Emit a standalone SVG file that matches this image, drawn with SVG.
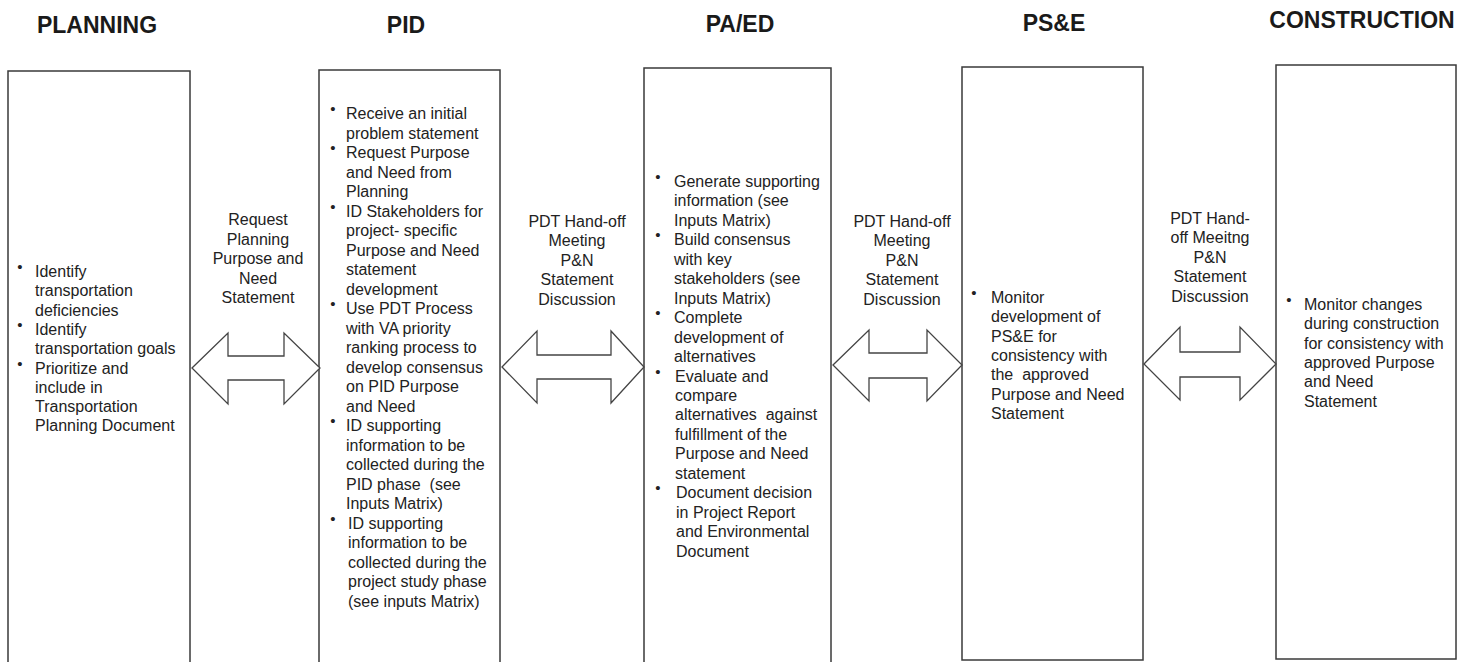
<svg xmlns="http://www.w3.org/2000/svg" width="1464" height="662" viewBox="0 0 1464 662">
<style>
.box{fill:#fff;stroke:#3a3a3a;stroke-width:1.5}
.hd{font-family:"Liberation Sans",Arial,sans-serif;font-weight:bold;font-size:23px;fill:#1a1a1a;text-anchor:middle}
.t{font-family:"Liberation Sans",Arial,sans-serif;font-size:16px;fill:#222}
.b{font-family:"Liberation Sans",Arial,sans-serif;font-size:15px;fill:#222;text-anchor:middle}
.lbl{font-family:"Liberation Sans",Arial,sans-serif;font-size:16px;fill:#222;text-anchor:middle}
.arr{fill:#fff;stroke:#444;stroke-width:1.3;stroke-linejoin:miter}
</style>
<rect width="1464" height="662" fill="#fff"/>

<g id="planning">
<text class="hd" x="97" y="33">PLANNING</text>
<rect class="box" x="8" y="71" width="182" height="595"/>
<text class="b" x="20" y="272">•</text>
<text class="b" x="20" y="330">•</text>
<text class="b" x="20" y="369">•</text>
<text class="t" x="35" y="277">Identify</text>
<text class="t" x="35" y="296.3">transportation</text>
<text class="t" x="35" y="315.6">deficiencies</text>
<text class="t" x="35" y="334.9">Identify</text>
<text class="t" x="35" y="354.2">transportation goals</text>
<text class="t" x="35" y="373.5">Prioritize and</text>
<text class="t" x="35" y="392.8">include in</text>
<text class="t" x="35" y="412.1">Transportation</text>
<text class="t" x="35" y="431.4">Planning Document</text>
</g>

<g id="pid">
<text class="hd" x="406" y="33">PID</text>
<rect class="box" x="319" y="70" width="181" height="596"/>
<text class="b" x="333" y="114">•</text>
<text class="b" x="333" y="153">•</text>
<text class="b" x="333" y="211.5">•</text>
<text class="b" x="333" y="309">•</text>
<text class="b" x="333" y="426">•</text>
<text class="b" x="333" y="523.5">•</text>
<text class="t" x="346" y="119">Receive an initial</text>
<text class="t" x="346" y="138.5">problem statement</text>
<text class="t" x="346" y="158">Request Purpose</text>
<text class="t" x="346" y="177.5">and Need from</text>
<text class="t" x="346" y="197">Planning</text>
<text class="t" x="346" y="216.5">ID Stakeholders for</text>
<text class="t" x="346" y="236">project- specific</text>
<text class="t" x="346" y="255.5">Purpose and Need</text>
<text class="t" x="346" y="275">statement</text>
<text class="t" x="346" y="294.5">development</text>
<text class="t" x="346" y="314">Use PDT Process</text>
<text class="t" x="346" y="333.5">with VA priority</text>
<text class="t" x="346" y="353">ranking process to</text>
<text class="t" x="346" y="372.5">develop consensus</text>
<text class="t" x="346" y="392">on PID Purpose</text>
<text class="t" x="346" y="411.5">and Need</text>
<text class="t" x="346" y="431">ID supporting</text>
<text class="t" x="346" y="450.5">information to be</text>
<text class="t" x="346" y="470">collected during the</text>
<text class="t" x="346" y="489.5" xml:space="preserve">PID phase  (see</text>
<text class="t" x="346" y="509">Inputs Matrix)</text>
<text class="t" x="348" y="528.5">ID supporting</text>
<text class="t" x="348" y="548">information to be</text>
<text class="t" x="348" y="567.5">collected during the</text>
<text class="t" x="348" y="587">project study phase</text>
<text class="t" x="348" y="606.5">(see inputs Matrix)</text>
</g>

<g id="paed">
<text class="hd" x="740" y="32">PA/ED</text>
<rect class="box" x="644" y="68" width="187" height="598"/>
<text class="b" x="658" y="182">•</text>
<text class="b" x="658" y="240.4">•</text>
<text class="b" x="658" y="318.2">•</text>
<text class="b" x="658" y="376.5">•</text>
<text class="b" x="658" y="493.2">•</text>
<text class="t" x="674" y="187">Generate supporting</text>
<text class="t" x="674" y="206.45">information (see</text>
<text class="t" x="674" y="225.9">Inputs Matrix)</text>
<text class="t" x="674" y="245.35">Build consensus</text>
<text class="t" x="674" y="264.8">with key</text>
<text class="t" x="674" y="284.25">stakeholders (see</text>
<text class="t" x="674" y="303.7">Inputs Matrix)</text>
<text class="t" x="674" y="323.15">Complete</text>
<text class="t" x="674" y="342.6">development of</text>
<text class="t" x="674" y="362.05">alternatives</text>
<text class="t" x="675" y="381.5">Evaluate and</text>
<text class="t" x="675" y="400.95">compare</text>
<text class="t" x="675" y="420.4" xml:space="preserve">alternatives  against</text>
<text class="t" x="675" y="439.85">fulfillment of the</text>
<text class="t" x="675" y="459.3">Purpose and Need</text>
<text class="t" x="675" y="478.75">statement</text>
<text class="t" x="676" y="498.2">Document decision</text>
<text class="t" x="676" y="517.65">in Project Report</text>
<text class="t" x="676" y="537.1">and Environmental</text>
<text class="t" x="676" y="556.55">Document</text>
</g>

<g id="pse">
<text class="hd" x="1054" y="31">PS&amp;E</text>
<rect class="box" x="962" y="67" width="181" height="593"/>
<text class="b" x="974" y="298">•</text>
<text class="t" x="991" y="303">Monitor</text>
<text class="t" x="991" y="322.3">development of</text>
<text class="t" x="991" y="341.6">PS&amp;E for</text>
<text class="t" x="991" y="360.9">consistency with</text>
<text class="t" x="991" y="380.2" xml:space="preserve">the  approved</text>
<text class="t" x="991" y="399.5">Purpose and Need</text>
<text class="t" x="991" y="418.8">Statement</text>
</g>

<g id="construction">
<text class="hd" x="1362" y="28">CONSTRUCTION</text>
<rect class="box" x="1276" y="65" width="180" height="594"/>
<text class="b" x="1289" y="305">•</text>
<text class="t" x="1304" y="310">Monitor changes</text>
<text class="t" x="1304" y="329.3">during construction</text>
<text class="t" x="1304" y="348.6">for consistency with</text>
<text class="t" x="1304" y="367.9">approved Purpose</text>
<text class="t" x="1304" y="387.2">and Need</text>
<text class="t" x="1304" y="406.5">Statement</text>
</g>

<g id="connectors">
<g id="c1">
<polygon class="arr" points="192,368 228,333 228,356 284,356 284,333 320,368 284,404 284,380 228,380 228,404"/>
<text class="lbl" x="258" y="225">Request</text>
<text class="lbl" x="258" y="244.5">Planning</text>
<text class="lbl" x="258" y="264">Purpose and</text>
<text class="lbl" x="258" y="283.5">Need</text>
<text class="lbl" x="258" y="303">Statement</text>
</g>
<g id="c2">
<polygon class="arr" points="502,367 537,331 537,355 611,355 611,331 644,367 611,403 611,379 537,379 537,403"/>
<text class="lbl" x="577" y="227">PDT Hand-off</text>
<text class="lbl" x="577" y="246.4">Meeting</text>
<text class="lbl" x="577" y="265.8">P&amp;N</text>
<text class="lbl" x="577" y="285.2">Statement</text>
<text class="lbl" x="577" y="304.6">Discussion</text>
</g>
<g id="c3">
<polygon class="arr" points="833,365 869,330 869,353 927,353 927,330 962,365 927,401 927,378 869,378 869,401"/>
<text class="lbl" x="902" y="227">PDT Hand-off</text>
<text class="lbl" x="902" y="246.4">Meeting</text>
<text class="lbl" x="902" y="265.8">P&amp;N</text>
<text class="lbl" x="902" y="285.2">Statement</text>
<text class="lbl" x="902" y="304.6">Discussion</text>
</g>
<g id="c4">
<polygon class="arr" points="1144,364 1180,327 1180,352 1240,352 1240,327 1276,364 1240,400 1240,377 1180,377 1180,400"/>
<text class="lbl" x="1210" y="223.5">PDT Hand-</text>
<text class="lbl" x="1210" y="243">off Meeitng</text>
<text class="lbl" x="1210" y="262.5">P&amp;N</text>
<text class="lbl" x="1210" y="282">Statement</text>
<text class="lbl" x="1210" y="301.5">Discussion</text>
</g>
</g>
</svg>
